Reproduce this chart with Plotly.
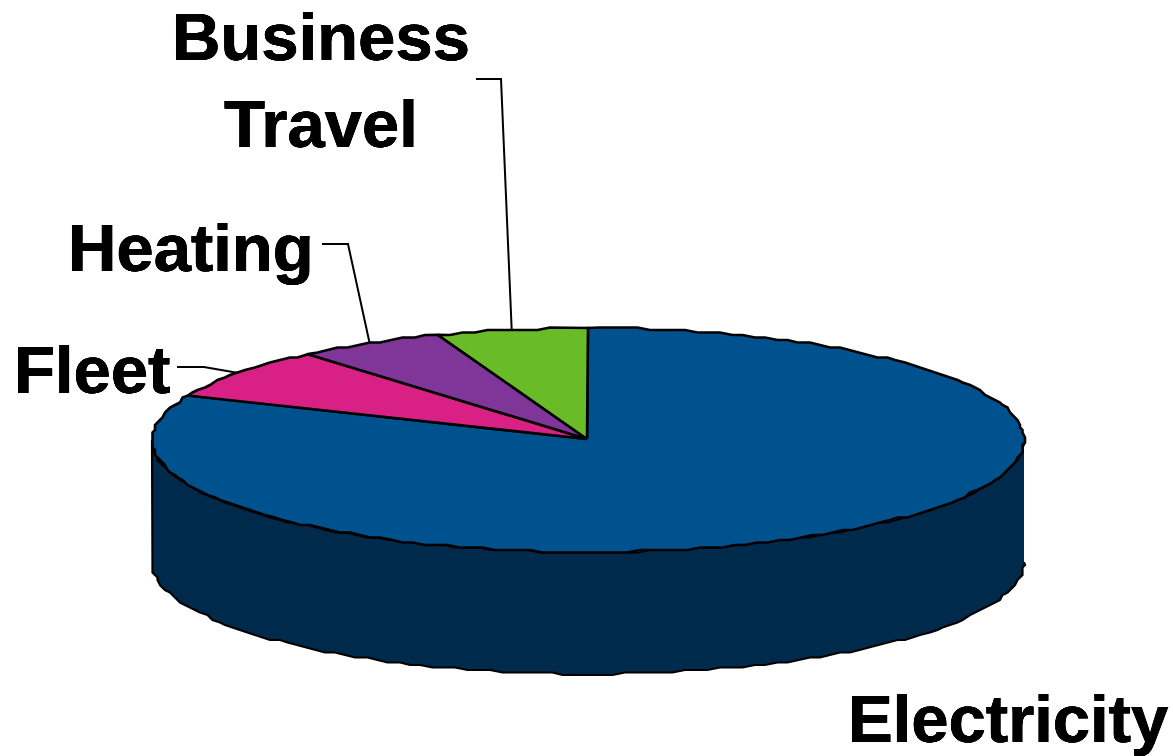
import numpy as np
import plotly.graph_objects as go

# Emissions share by source, clockwise from twelve o'clock
categories = ["Electricity", "Fleet", "Heating", "Business Travel"]
shares = [81.5, 7.4, 5.5, 5.6]
slice_colors = ["#00528F", "#D92085", "#7F3698", "#69BB27"]
side_color = "#002A4C"

# Tilted disc geometry, in page pixels
WIDTH, HEIGHT = 1173, 756
CX, CY = 588.0, 440.0
RX, RY = 436.0, 112.0
DEPTH = 122.0
GRID = 2.5  # vertices snap to this coarse grid, giving the rim its faceted look


def snap(v):
    return np.round(np.asarray(v) / GRID) * GRID


def rim(start_deg, end_deg, dy=0.0):
    n = max(2, int(abs(end_deg - start_deg) / 1.6) + 1)
    t = np.radians(np.linspace(start_deg, end_deg, n))
    x = snap(CX + RX * np.sin(t))
    y = snap(CY + dy - RY * np.cos(t))
    x[[0, -1]] = (CX + RX * np.sin(t))[[0, -1]]
    y[[0, -1]] = (CY + dy - RY * np.cos(t))[[0, -1]]
    return x, y


fig = go.Figure()

# Cylinder wall below the front half of the disc
bx, by = rim(90, 270, DEPTH)
tx, ty = rim(270, 90)
fig.add_trace(go.Scatter(
    x=np.r_[bx, tx], y=np.r_[by, ty], mode="lines", fill="toself",
    fillcolor=side_color, line=dict(color="black", width=2.2), hoverinfo="skip",
))

# Top face slices and the angle at the middle of each
angles = np.cumsum([0] + shares) / sum(shares) * 360
mids = {}
for name, color, a0, a1 in zip(categories, slice_colors, angles[:-1], angles[1:]):
    x, y = rim(a0, a1)
    fig.add_trace(go.Scatter(
        x=np.r_[CX - 1, x, CX - 1], y=np.r_[CY - 1, y, CY - 1], mode="lines",
        fill="toself", fillcolor=color, line=dict(color="black", width=2.6),
        hoverinfo="skip",
    ))
    mids[name] = (a0 + a1) / 2

# Leader lines run from the label to the rim at the slice's mid angle
leader_starts = {
    "Fleet": [(177, 367), (204, 367)],
    "Heating": [(322, 244), (348, 244)],
    "Business Travel": [(476, 79), (501, 79)],
}
for name, pts in leader_starts.items():
    t = np.radians(mids[name])
    xs = [p[0] for p in pts] + [CX + RX * np.sin(t)]
    ys = [p[1] for p in pts] + [CY - RY * np.cos(t)]
    fig.add_trace(go.Scatter(
        x=xs, y=ys, mode="lines", line=dict(color="black", width=2),
        hoverinfo="skip",
    ))

label_font = dict(
    family="Liberation Sans", size=67, color="black", weight=700,
    shadow="0.4px 0 0 black, -0.4px 0 0 black, 0 0.3px 0 black, 0 -0.3px 0 black",
)
label_places = [
    ("Electricity", 1008, 718),
    ("Fleet", 92, 369),
    ("Heating", 191, 247),
    ("Business<br>Travel", 321, 80),
]
for text, x, y in label_places:
    fig.add_annotation(x=x, y=y, text=text, showarrow=False, font=label_font,
                       xanchor="center", yanchor="middle", align="center")

fig.update_layout(
    width=WIDTH, height=HEIGHT, margin=dict(l=0, r=0, t=0, b=0),
    paper_bgcolor="white", plot_bgcolor="white", showlegend=False,
    xaxis=dict(range=[0, WIDTH], visible=False, fixedrange=True),
    yaxis=dict(range=[HEIGHT, 0], visible=False, fixedrange=True),
)

fig.write_html("out.html", config=dict(displayModeBar=False))
